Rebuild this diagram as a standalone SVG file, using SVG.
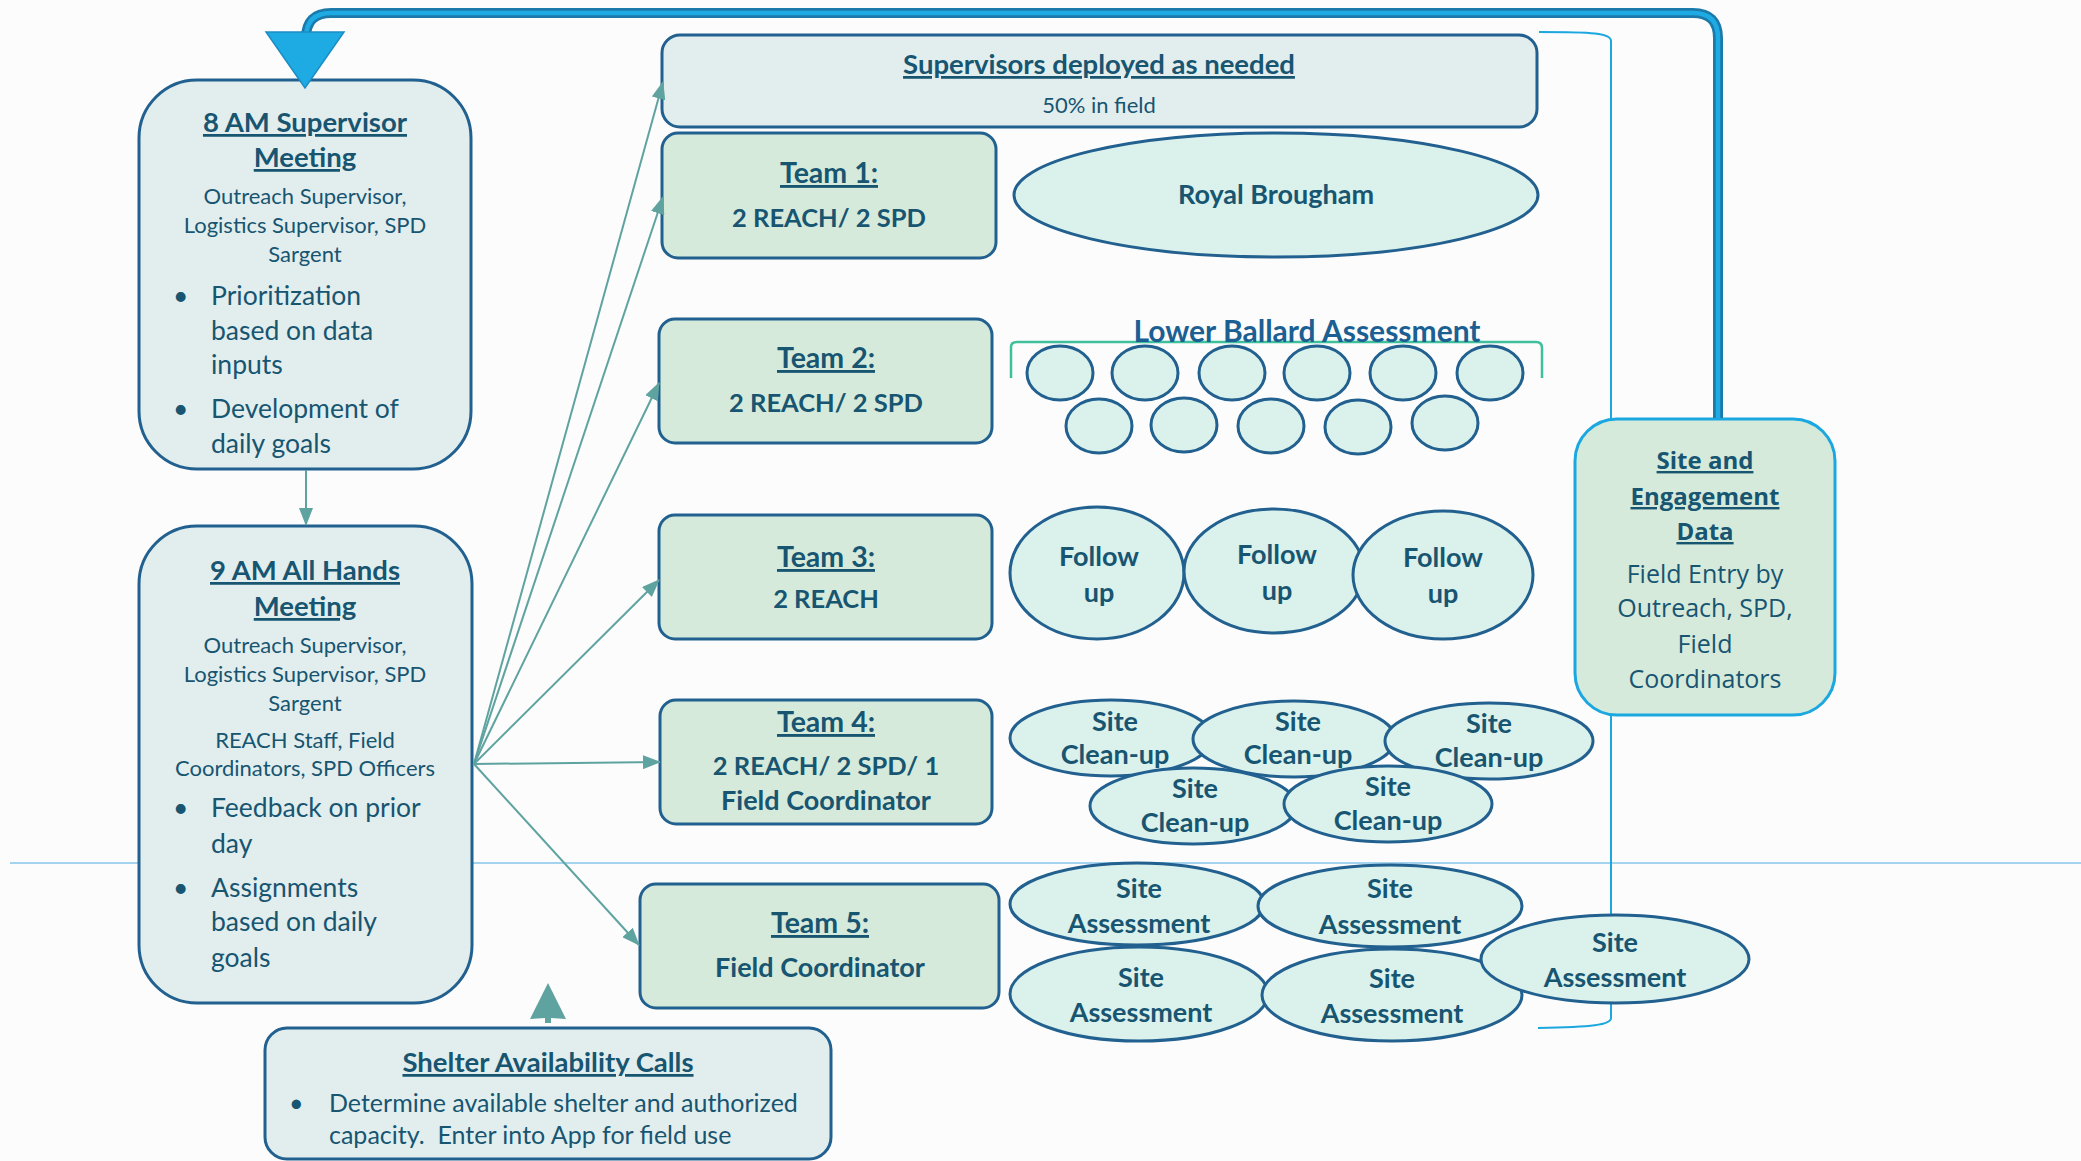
<svg xmlns="http://www.w3.org/2000/svg" width="2081" height="1161" viewBox="0 0 2081 1161">
<defs>
<style>
text{font-family:Lato,"Liberation Sans",sans-serif;fill:#175571}
.h{font-size:27.5px;font-weight:700;text-anchor:middle;text-decoration:underline}
.b{font-size:22px;text-anchor:middle}
.bl{font-size:26.5px}
.tb{font-size:27px;font-weight:700;text-anchor:middle}
.tr{font-size:25.5px;font-weight:700;text-anchor:middle}
.os{font-family:"Open Sans","Noto Sans",sans-serif;font-size:24px;text-anchor:middle}
.box{fill:#e2eeee;stroke:#21608f;stroke-width:3}
.team{fill:#d5eadb;stroke:#21608f;stroke-width:3}
.el{fill:#daf1ec;stroke:#21608f;stroke-width:3}
.con{stroke:#5fa3a0;stroke-width:2;fill:none;marker-end:url(#ah)}
</style>
<marker id="ah" markerUnits="userSpaceOnUse" markerWidth="18" markerHeight="14" viewBox="0 0 18 14" refX="17" refY="7" orient="auto">
<path d="M0,0 L18,7 L0,14 z" fill="#5fa3a0"/>
</marker>
</defs>
<rect width="2081" height="1161" fill="#fcfcfc"/>
<g id="guides">
<line x1="10" y1="863" x2="2081" y2="863" stroke="#a3d3ee" stroke-width="2"/>
<path d="M1539,32 C1592,32 1611,33 1611,41 L1611,1018 C1611,1025 1592,1027 1538,1028" fill="none" stroke="#1ba7e0" stroke-width="2"/>
<path d="M1011,378 L1011,347 Q1011,342 1017,342 L1536,342 Q1542,342 1542,348 L1542,378" fill="none" stroke="#3fbf9a" stroke-width="2.5"/>
</g>
<g id="n8am">
<rect class="box" x="139" y="80" width="332" height="389" rx="58"/>
<text class="h" x="305" y="132">8 AM Supervisor</text>
<text class="h" x="305" y="167">Meeting</text>
<text class="b" x="305" y="204">Outreach Supervisor,</text>
<text class="b" x="305" y="233">Logistics Supervisor, SPD</text>
<text class="b" x="305" y="262">Sargent</text>
<text class="bl" x="173" y="305">•</text><text class="bl" x="211" y="305">Prioritization</text>
<text class="bl" x="211" y="340">based on data</text>
<text class="bl" x="211" y="374">inputs</text>
<text class="bl" x="173" y="418">•</text><text class="bl" x="211" y="418">Development of</text>
<text class="bl" x="211" y="453">daily goals</text>
</g>
<g id="n9am">
<rect class="box" x="139" y="526" width="333" height="477" rx="58"/>
<text class="h" x="305" y="580">9 AM All Hands</text>
<text class="h" x="305" y="616">Meeting</text>
<text class="b" x="305" y="653">Outreach Supervisor,</text>
<text class="b" x="305" y="682">Logistics Supervisor, SPD</text>
<text class="b" x="305" y="711">Sargent</text>
<text class="b" x="305" y="748">REACH Staff, Field</text>
<text class="b" x="305" y="776">Coordinators, SPD Officers</text>
<text class="bl" x="173" y="817">•</text><text class="bl" x="211" y="817">Feedback on prior</text>
<text class="bl" x="211" y="853">day</text>
<text class="bl" x="173" y="897">•</text><text class="bl" x="211" y="897">Assignments</text>
<text class="bl" x="211" y="931">based on daily</text>
<text class="bl" x="211" y="967">goals</text>
</g>
<g id="shelter">
<rect class="box" x="265" y="1028" width="566" height="131" rx="22"/>
<text class="h" x="548" y="1072">Shelter Availability Calls</text>
<text class="bl" x="289" y="1112" style="font-size:25px">•</text>
<text class="bl" x="329" y="1112" style="font-size:25px">Determine available shelter and authorized</text>
<text class="bl" x="329" y="1144" style="font-size:25px" xml:space="preserve">capacity.  Enter into App for field use</text>
</g>
<g id="supervisors">
<rect class="box" x="662" y="35" width="875" height="92" rx="18"/>
<text class="h" x="1099" y="74">Supervisors deployed as needed</text>
<text class="b" x="1099" y="113">50% in field</text>
</g>
<g id="team1">
<rect class="team" x="662" y="133" width="334" height="125" rx="16"/>
<text class="h" x="829" y="183" style="font-size:28.5px">Team 1:</text>
<text class="tr" x="829" y="227">2 REACH/ 2 SPD</text>
</g>
<g id="royal">
<ellipse class="el" cx="1276" cy="195" rx="262" ry="62"/>
<text class="tb" x="1276" y="204">Royal Brougham</text>
</g>
<g id="team2">
<rect class="team" x="659" y="319" width="333" height="124" rx="16"/>
<text class="h" x="826" y="368" style="font-size:28.5px">Team 2:</text>
<text class="tr" x="826" y="412">2 REACH/ 2 SPD</text>
</g>
<g id="ballard">
<text class="tb" x="1307" y="342" style="fill:#1b5f93;font-size:30px">Lower Ballard Assessment</text>
<ellipse class="el" cx="1060" cy="373" rx="33" ry="27"/>
<ellipse class="el" cx="1145" cy="373" rx="33" ry="27"/>
<ellipse class="el" cx="1232" cy="373" rx="33" ry="27"/>
<ellipse class="el" cx="1317" cy="373" rx="33" ry="27"/>
<ellipse class="el" cx="1403" cy="373" rx="33" ry="27"/>
<ellipse class="el" cx="1490" cy="373" rx="33" ry="27"/>
<ellipse class="el" cx="1099" cy="426" rx="33" ry="27"/>
<ellipse class="el" cx="1184" cy="425" rx="33" ry="27"/>
<ellipse class="el" cx="1271" cy="426" rx="33" ry="27"/>
<ellipse class="el" cx="1358" cy="427" rx="33" ry="27"/>
<ellipse class="el" cx="1445" cy="423" rx="33" ry="27"/>
</g>
<g id="team3">
<rect class="team" x="659" y="515" width="333" height="124" rx="16"/>
<text class="h" x="826" y="567" style="font-size:28.5px">Team 3:</text>
<text class="tr" x="826" y="608">2 REACH</text>
</g>
<g id="followups">
<ellipse class="el" cx="1097" cy="573" rx="87" ry="66"/>
<text class="tb" x="1099" y="566">Follow</text><text class="tb" x="1099" y="602">up</text>
<ellipse class="el" cx="1274" cy="571" rx="90" ry="62"/>
<text class="tb" x="1277" y="564">Follow</text><text class="tb" x="1277" y="600">up</text>
<ellipse class="el" cx="1443" cy="575" rx="90" ry="64"/>
<text class="tb" x="1443" y="567">Follow</text><text class="tb" x="1443" y="603">up</text>
</g>
<g id="team4">
<rect class="team" x="660" y="700" width="332" height="124" rx="16"/>
<text class="h" x="826" y="732" style="font-size:28.5px">Team 4:</text>
<text class="tr" x="826" y="775">2 REACH/ 2 SPD/ 1</text>
<text class="tb" x="826" y="810">Field Coordinator</text>
</g>
<g id="cleanups">
<ellipse class="el" cx="1111" cy="738" rx="101" ry="38"/>
<text class="tb" x="1115" y="731">Site</text><text class="tb" x="1115" y="764">Clean-up</text>
<ellipse class="el" cx="1294" cy="739" rx="101" ry="38"/>
<text class="tb" x="1298" y="731">Site</text><text class="tb" x="1298" y="764">Clean-up</text>
<ellipse class="el" cx="1489" cy="741" rx="104" ry="38"/>
<text class="tb" x="1489" y="733">Site</text><text class="tb" x="1489" y="767">Clean-up</text>
<ellipse class="el" cx="1193" cy="806" rx="103" ry="38"/>
<text class="tb" x="1195" y="798">Site</text><text class="tb" x="1195" y="832">Clean-up</text>
<ellipse class="el" cx="1388" cy="804" rx="104" ry="38"/>
<text class="tb" x="1388" y="796">Site</text><text class="tb" x="1388" y="830">Clean-up</text>
</g>
<g id="team5">
<rect class="team" x="640" y="884" width="359" height="124" rx="16"/>
<text class="h" x="820" y="933" style="font-size:28.5px">Team 5:</text>
<text class="tb" x="820" y="977">Field Coordinator</text>
</g>
<g id="assessments">
<ellipse class="el" cx="1137" cy="904" rx="127" ry="41"/>
<text class="tb" x="1139" y="898">Site</text><text class="tb" x="1139" y="933">Assessment</text>
<ellipse class="el" cx="1390" cy="906" rx="132" ry="41"/>
<text class="tb" x="1390" y="898">Site</text><text class="tb" x="1390" y="934">Assessment</text>
<ellipse class="el" cx="1139" cy="994" rx="129" ry="47"/>
<text class="tb" x="1141" y="987">Site</text><text class="tb" x="1141" y="1022">Assessment</text>
<ellipse class="el" cx="1392" cy="995" rx="130" ry="46"/>
<text class="tb" x="1392" y="988">Site</text><text class="tb" x="1392" y="1023">Assessment</text>
<ellipse class="el" cx="1615" cy="959" rx="134" ry="44"/>
<text class="tb" x="1615" y="952">Site</text><text class="tb" x="1615" y="987">Assessment</text>
</g>
<g id="sitedata">
<rect x="1575" y="419" width="260" height="296" rx="42" fill="#d5eadb" stroke="#1ba7e0" stroke-width="3"/>
<text class="os" x="1705" y="469" style="font-weight:700;text-decoration:underline">Site and</text>
<text class="os" x="1705" y="505" style="font-weight:700;text-decoration:underline">Engagement</text>
<text class="os" x="1705" y="540" style="font-weight:700;text-decoration:underline">Data</text>
<text class="os" x="1705" y="583" style="font-size:25px">Field Entry by</text>
<text class="os" x="1705" y="617" style="font-size:25px">Outreach, SPD,</text>
<text class="os" x="1705" y="653" style="font-size:25px">Field</text>
<text class="os" x="1705" y="688" style="font-size:25px">Coordinators</text>
</g>
<g id="connectors">
<line class="con" x1="306" y1="470" x2="306" y2="525"/>
<line class="con" x1="474" y1="764" x2="663" y2="82"/>
<line class="con" x1="474" y1="764" x2="663" y2="197"/>
<line class="con" x1="474" y1="764" x2="659" y2="383"/>
<line class="con" x1="474" y1="764" x2="659" y2="580"/>
<line class="con" x1="474" y1="764" x2="660" y2="762"/>
<line class="con" x1="474" y1="764" x2="639" y2="945"/>
<path d="M1718,418 L1718,38 Q1718,13 1693,13 L331,13 Q306,13 306,38 L306,40" fill="none" stroke="#1c7aab" stroke-width="10"/>
<path d="M1718,418 L1718,38 Q1718,13 1693,13 L331,13 Q306,13 306,38 L306,40" fill="none" stroke="#1eaae2" stroke-width="4.5"/>
<polygon points="266,32 344,32 305,88" fill="#1eaae2" stroke="#1c8cc4" stroke-width="1.5"/>
<polygon points="548,983 566,1019 551,1018 551,1023 545,1023 545,1018 530,1019" fill="#5fa3a0"/>
</g>
</svg>
